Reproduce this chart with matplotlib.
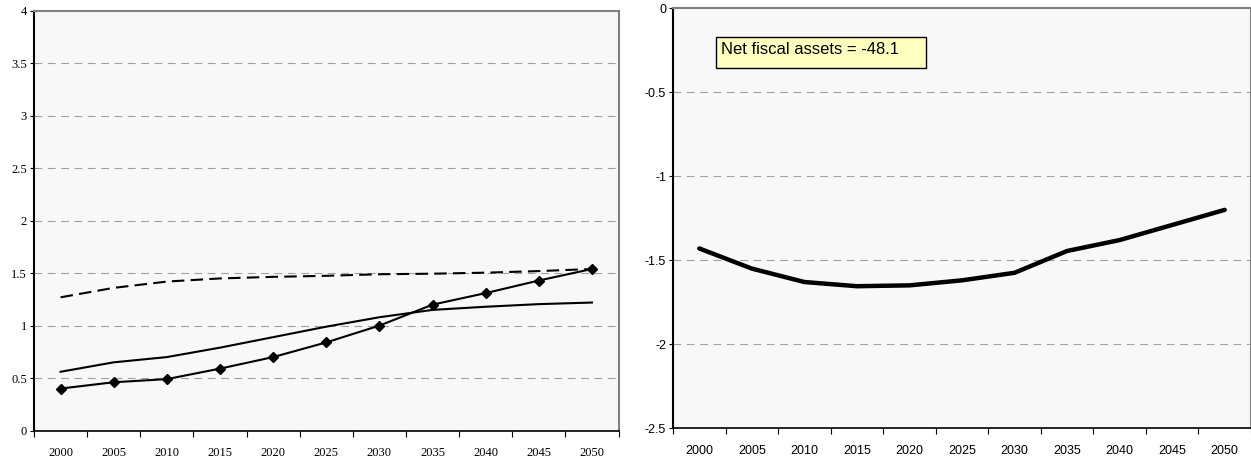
import matplotlib.pyplot as plt
from matplotlib.patches import Rectangle
import numpy as np

years = ['2000', '2005', '2010', '2015', '2020', '2025', '2030', '2035', '2040', '2045', '2050']

# left panel
diamond = [0.40, 0.46, 0.49, 0.59, 0.70, 0.84, 1.00, 1.20, 1.31, 1.43, 1.54]
solid = [0.56, 0.65, 0.70, 0.79, 0.89, 0.99, 1.08, 1.15, 1.18, 1.205, 1.22]
dashed = [1.27, 1.36, 1.42, 1.45, 1.465, 1.475, 1.49, 1.495, 1.505, 1.52, 1.54]

# right panel
fiscal = [-1.43, -1.55, -1.63, -1.655, -1.65, -1.62, -1.575, -1.445, -1.38, -1.29, -1.20]
note = 'Net fiscal assets = -48.1'

fig = plt.figure(figsize=(12.51, 4.61), dpi=100)
ax1 = fig.add_axes([34 / 1251, (461 - 430.5) / 461, 584.5 / 1251, 419.5 / 461])
ax2 = fig.add_axes([673 / 1251, (461 - 428) / 461, 578 / 1251, 419.5 / 461])

def style(ax, family, ylim, step, fs):
    x = np.arange(len(years))
    ax.set_facecolor('#f8f8f8')
    ax.set_xlim(-0.5, len(years) - 0.5)
    ax.set_ylim(*ylim)
    ax.set_xticks(x)
    ax.set_xticklabels(years, family=family, fontsize=fs)
    ax.set_xticks(np.arange(-0.5, len(years), 1.0), minor=True)
    ax.tick_params(axis='x', which='major', length=0, pad=12)
    ax.tick_params(axis='x', which='minor', length=4, width=0.8, color='black')
    yt = np.arange(ylim[0], ylim[1] + step / 2, step)
    ax.set_yticks(yt)
    ax.set_yticklabels(['%g' % v for v in yt], family=family, fontsize=fs)
    ax.tick_params(axis='y', length=3, width=0.8, pad=2)
    for v in yt:
        if v not in ylim:
            ax.axhline(v, color='#a0a0a0', lw=0.8, ls=(0, (7, 5)), zorder=1)
    ax.spines['left'].set_color('black')
    ax.spines['left'].set_linewidth(1.5)
    ax.spines['bottom'].set_color('black')
    ax.spines['bottom'].set_linewidth(1.2)
    for s in ['top', 'right']:
        ax.spines[s].set_color('#808080')
        ax.spines[s].set_linewidth(1.5)

style(ax1, 'Liberation Serif', (0, 4), 0.5, 9)
x = np.arange(len(years))
ax1.plot(x, dashed, color='black', lw=1.5, ls=(0, (6, 3)), zorder=3)
ax1.plot(x, solid, color='black', lw=1.5, zorder=3)
ax1.plot(x, diamond, color='black', lw=1.5, marker='D', ms=5, zorder=4)

style(ax2, 'Liberation Sans', (-2.5, 0), 0.5, 9)
ax2.plot(x, fiscal, color='black', lw=3.2, solid_capstyle='round', zorder=3)
ax2.add_patch(Rectangle((0.0744, 0.858), 0.363, 0.075, transform=ax2.transAxes,
                        fc='#ffffc0', ec='black', lw=1, zorder=5))
ax2.text(0.0825, 0.891, note, transform=ax2.transAxes, family='Liberation Sans',
         fontsize=12, va='baseline', ha='left', zorder=6)

fig.savefig('out.png', dpi=100)
